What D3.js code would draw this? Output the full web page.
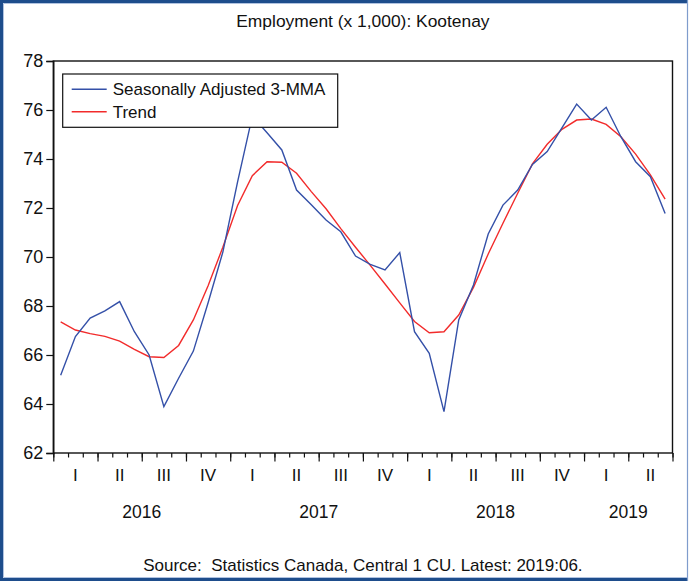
<!DOCTYPE html>
<html>
<head>
<meta charset="utf-8">
<script src="https://cdn.jsdelivr.net/npm/d3@7"></script>
<style>
  html, body { margin: 0; padding: 0; background: #fff; }
  svg { display: block; font-family: "Liberation Sans", Arial, Helvetica, sans-serif; }
</style>
</head>
<body>
<svg id="chart" width="691" height="581"></svg>
<script>
// Monthly observations, January 2016 to June 2019
const months = d3.range(42).map(i => {
  const y = 2016 + Math.floor(i / 12), m = (i % 12) + 1;
  return `${y}:${String(m).padStart(2, "0")}`;
});

const seasonallyAdjusted = [
  65.17, 66.75, 67.51, 67.80, 68.18, 66.95, 66.00, 63.89, 65.05, 66.16,
  68.13, 70.20, 73.07, 75.75, 75.07, 74.37, 72.73, 72.13, 71.51, 71.03,
  70.04, 69.70, 69.47, 70.18, 66.95, 66.07, 63.69, 67.43, 68.86, 70.94,
  72.12, 72.73, 73.78, 74.30, 75.27, 76.24, 75.59, 76.11, 74.91, 73.89,
  73.28, 71.78
];

const trend = [
  67.35, 67.02, 66.87, 66.76, 66.57, 66.23, 65.93, 65.90, 66.39, 67.43,
  68.83, 70.40, 72.10, 73.32, 73.89, 73.87, 73.42, 72.67, 71.97, 71.16,
  70.40, 69.66, 68.90, 68.13, 67.37, 66.91, 66.95, 67.63, 68.76, 70.12,
  71.38, 72.60, 73.80, 74.60, 75.21, 75.59, 75.63, 75.41, 74.91, 74.20,
  73.35, 72.36
];

const yTicks = [62, 64, 66, 68, 70, 72, 74, 76, 78];
const quarterLabels = ["I", "II", "III", "IV"];
const years = ["2016", "2017", "2018", "2019"];

const seriesNames = ["Seasonally Adjusted 3-MMA", "Trend"];
const seriesColors = ["#3450a8", "#f22b2b"];

const title = "Employment (x 1,000): Kootenay";
const source = "Source:  Statistics Canada, Central 1 CU. Latest: 2019:06.";

const W = 691, H = 581;
const plot = { left: 53.3, right: 672.5, top: 61, bottom: 453 };

const svg = d3.select("#chart");

// outer frame
svg.append("path")
  .attr("d", `M${W - 3},1.5 H1.5 V${H - 1.5} H${W - 3}`)
  .attr("fill", "none").attr("stroke", "#1e4d8c").attr("stroke-width", 3);
svg.append("line")
  .attr("x1", W - 3.5).attr("x2", W - 3.5).attr("y1", 0).attr("y2", H)
  .attr("stroke", "#7f9ccc").attr("stroke-width", 1.2);
svg.append("path")
  .attr("d", `M${W - 3.5},3.5 H3.5 V${H - 3.5} H${W - 3.5}`)
  .attr("fill", "none").attr("stroke", "#9db4d8").attr("stroke-width", 0.8);

const x = d3.scaleBand().domain(months).range([plot.left, plot.right]).paddingInner(0).paddingOuter(0);
const xIdx = d3.scaleLinear().domain([0, months.length]).range([plot.left, plot.right]);
const y = d3.scaleLinear().domain([62, 78]).range([plot.bottom, plot.top]);
const cx = m => x(m) + x.bandwidth() / 2;

// title
svg.append("text")
  .attr("x", (plot.left + plot.right) / 2).attr("y", 27)
  .attr("text-anchor", "middle").attr("font-size", 17.4).attr("fill", "#111")
  .text(title);

// plot box
svg.append("rect")
  .attr("x", plot.left).attr("y", plot.top)
  .attr("width", plot.right - plot.left).attr("height", plot.bottom - plot.top)
  .attr("fill", "none").attr("stroke", "#111").attr("stroke-width", 1.4);

// y axis
const yAxis = svg.append("g")
  .attr("transform", `translate(${plot.left},0)`)
  .call(d3.axisLeft(y).tickValues(yTicks).tickSize(7).tickPadding(3).tickFormat(d3.format("d")));
yAxis.select(".domain").attr("stroke", "#111").attr("stroke-width", 1.4);
yAxis.selectAll(".tick line").attr("stroke", "#111").attr("stroke-width", 1.2);
yAxis.selectAll(".tick text").attr("font-size", 18).attr("fill", "#111")
  .attr("font-family", "\"Liberation Sans\", Arial, sans-serif");

// x axis: month ticks (short) and quarter ticks (long)
const monthAxis = svg.append("g")
  .attr("transform", `translate(0,${plot.bottom})`)
  .call(d3.axisBottom(xIdx).tickValues(d3.range(0, months.length + 1)).tickSize(4.5).tickFormat(""));
monthAxis.select(".domain").remove();
monthAxis.selectAll(".tick line").attr("stroke", "#111").attr("stroke-width", 1.2);

const quarterAxis = svg.append("g")
  .attr("transform", `translate(0,${plot.bottom})`)
  .call(d3.axisBottom(xIdx).tickValues(d3.range(0, months.length + 1, 3)).tickSize(8.5).tickFormat(""));
quarterAxis.select(".domain").remove();
quarterAxis.selectAll(".tick line").attr("stroke", "#111").attr("stroke-width", 1.2);

// quarter labels
const quarterStarts = d3.range(0, months.length, 3);
svg.append("g").selectAll("text")
  .data(quarterStarts)
  .join("text")
  .attr("x", i => (xIdx(i) + xIdx(i + 3)) / 2)
  .attr("y", 481)
  .attr("text-anchor", "middle").attr("font-size", 17).attr("fill", "#111")
  .text(i => quarterLabels[(i / 3) % 4]);

// year labels centred on the months each year covers
svg.append("g").selectAll("text")
  .data(years)
  .join("text")
  .attr("x", yr => {
    const ms = months.filter(m => m.startsWith(yr));
    return (x(ms[0]) + x(ms[ms.length - 1]) + x.bandwidth()) / 2;
  })
  .attr("y", 517.5)
  .attr("text-anchor", "middle").attr("font-size", 17.5).attr("fill", "#111")
  .text(d => d);

// series lines
const line = d3.line().x((d, i) => cx(months[i])).y(d => y(d));
[trend, seasonallyAdjusted].forEach((vals, k) => {
  const idx = k === 0 ? 1 : 0;
  svg.append("path")
    .datum(vals)
    .attr("d", line)
    .attr("fill", "none")
    .attr("stroke", seriesColors[idx])
    .attr("stroke-width", 1.4)
    .attr("stroke-linejoin", "miter");
});

// legend
const lg = svg.append("g").attr("transform", "translate(62.7,74)");
lg.append("rect").attr("width", 275).attr("height", 53.3)
  .attr("fill", "#fff").attr("stroke", "#111").attr("stroke-width", 1.2);
seriesNames.forEach((name, i) => {
  const yy = 15.3 + i * 22.4;
  lg.append("line").attr("x1", 9).attr("x2", 44).attr("y1", yy).attr("y2", yy)
    .attr("stroke", seriesColors[i]).attr("stroke-width", 1.4);
  lg.append("text").attr("x", 50).attr("y", yy + 6).attr("font-size", 17).attr("fill", "#111")
    .text(name);
});

// source note
svg.append("text")
  .attr("x", (plot.left + plot.right) / 2).attr("y", 570.5)
  .attr("text-anchor", "middle").attr("font-size", 17).attr("fill", "#111")
  .style("white-space", "pre")
  .text(source);
</script>
</body>
</html>
